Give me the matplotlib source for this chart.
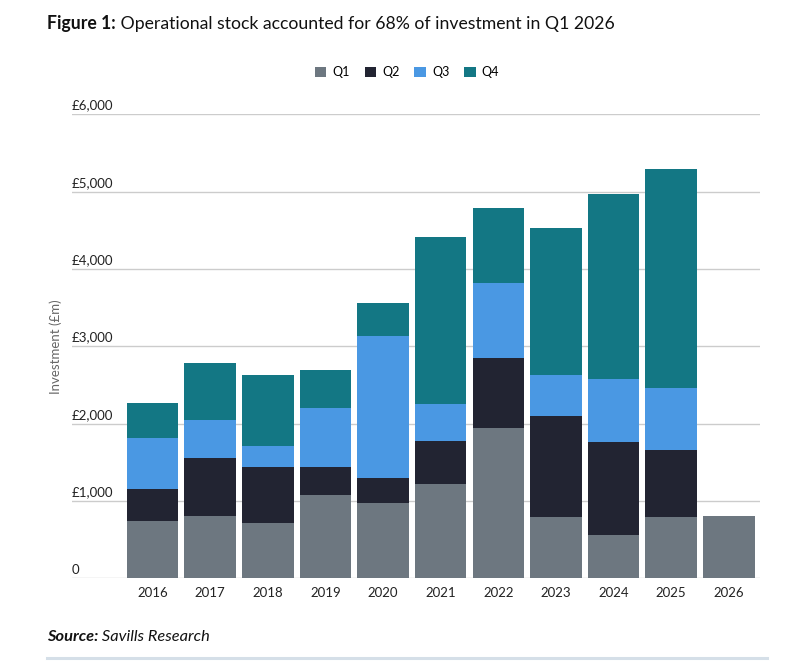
import numpy as np
import matplotlib
matplotlib.use("Agg")
from matplotlib import pyplot as plt
from matplotlib.patches import Patch

plt.rcParams['font.family'] = ['Lato', 'DejaVu Sans']

# data (GBP m)
years = ['2016', '2017', '2018', '2019', '2020', '2021', '2022', '2023', '2024', '2025', '2026']
q1 = [740, 806, 716, 1078, 974, 1220, 1944, 793, 560, 793, 806]
q2 = [415, 750, 724, 362, 323, 556, 905, 1306, 1203, 866, 0]
q3 = [660, 491, 271, 763, 1837, 478, 970, 530, 815, 802, 0]
q4 = [452, 737, 918, 491, 426, 2160, 970, 1901, 2392, 2832, 0]
series_names = ['Q1', 'Q2', 'Q3', 'Q4']
colors = ['#6d7780', '#222432', '#4a98e3', '#137784']
yticks = [0, 1000, 2000, 3000, 4000, 5000, 6000]
ytick_labels = ['0', '£1,000', '£2,000', '£3,000', '£4,000', '£5,000', '£6,000']

fig = plt.figure(figsize=(7.87, 6.71), dpi=100)
ax = fig.add_axes([72 / 787, 1 - 578.3 / 671, 688 / 787, 464 / 671])

x = np.arange(len(years))
bottom = np.zeros(len(years))
for vals, name, c in zip([q1, q2, q3, q4], series_names, colors):
    ax.bar(x, vals, bottom=bottom, width=0.895, color=c, label=name, zorder=2)
    bottom += np.array(vals)

ax.set_xlim(-1.396, 10.54)
ax.set_ylim(0, 6000)
for spine in ax.spines.values():
    spine.set_visible(False)

# gridlines incl. baseline
for t in yticks:
    ax.axhline(t, color='#cccccc', lw=1, zorder=1)
ax.set_yticks([])
# tick labels sit above the gridline, left aligned
for t, lab in zip(yticks, ytick_labels):
    ax.annotate(lab, xy=(0, t), xycoords=('axes fraction', 'data'),
                xytext=(0, 2), textcoords='offset points',
                ha='left', va='bottom', fontsize=9.5, color='#222222')

ax.set_xticks(x)
ax.set_xticklabels(years, fontsize=9.5, color='#222222')
ax.tick_params(axis='x', length=0, pad=6)

fig.text(56 / 787, 1 - 347 / 671, 'Investment (£m)', rotation=90, ha='center', va='center',
         fontsize=9.5, color='#666666')

# legend
handles = [Patch(facecolor=c, label=n) for c, n in zip(colors, series_names)]
fig.legend(handles=handles, loc='center', bbox_to_anchor=(407 / 787, 1 - 72 / 671), ncol=4,
           frameon=False, fontsize=9, handlelength=0.9, handleheight=0.9,
           handletextpad=0.5, columnspacing=1.2)

# title
t1 = fig.text(47 / 787, 1 - 23 / 671, 'Figure 1:', fontsize=12.7, fontweight='bold',
              ha='left', va='center', color='#111111')
ax.annotate(' Operational stock accounted for 68% of investment in Q1 2026',
            xy=(1, 0), xycoords=t1, ha='left', va='bottom', fontsize=12.7, color='#111111')

# source
s1 = fig.text(47 / 787, 1 - 637 / 671, 'Source:', fontsize=11.8, fontweight='bold',
              style='italic', ha='left', va='center', color='#111111')
ax.annotate(' Savills Research', xy=(1, 0), xycoords=s1, ha='left', va='bottom',
            fontsize=11.8, style='italic', color='#111111')
fig.add_artist(plt.Line2D([47 / 787, 767 / 787], [1 - 658 / 671] * 2, color='#d5dfe8', lw=2.2))

fig.savefig('out.png', dpi=100)
